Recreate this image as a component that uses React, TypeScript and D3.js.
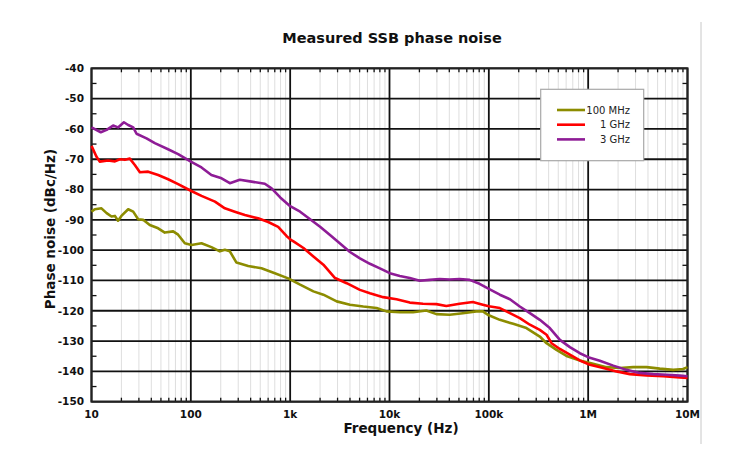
import React from "react";
import * as d3 from "d3";

// frequency (Hz), phase noise (dBc/Hz)
const series100MHz: [number, number][] = [
  [10, -87.3], [10.8, -86.5], [12.6, -86.2], [14.2, -87.8], [15.9, -88.9], [17.2, -88.7],
  [18.5, -90.3], [20, -88.7], [23.4, -86.5], [26.3, -87.3], [29.5, -89.8], [33.1, -90],
  [38.6, -91.7], [46.9, -92.8], [54.7, -94.2], [66.4, -93.8], [74.5, -94.9], [87, -97.7],
  [101.6, -98.3], [128, -97.7], [161, -99], [196, -100.4], [220, -99.9], [247, -100.4],
  [288, -104.1], [378, -105.2], [514, -106], [701, -107.6], [955, -109.3],
  [1259, -111.4], [1714, -113.6], [2159, -114.7], [2939, -116.9], [4000, -118],
  [5445, -118.6], [7410, -119.1], [9330, -120.2], [12700, -120.5], [17270, -120.5],
  [23500, -119.9], [29630, -121.1], [40300, -121.3], [54800, -120.8], [74600, -120.2],
  [87000, -120.2], [100000, -121.5], [129000, -123], [176000, -124.3], [239000, -125.7],
  [326000, -128.5], [381000, -130.7], [480000, -132.9], [605000, -134.9], [824000, -136.4],
  [1.12e6, -137.5], [1.53e6, -138.6], [2.08e6, -138.9], [2.84e6, -138.6], [3.87e6, -138.6],
  [5.26e6, -139.1], [7.18e6, -139.5], [9.04e6, -139.2], [1e7, -138.6],
];

const series1GHz: [number, number][] = [
  [10, -65.6], [11.2, -69.1], [12.1, -70.8], [14.7, -70.4], [17.2, -70.7], [19.3, -70],
  [21.7, -70.2], [24.3, -69.8], [27.3, -71.9], [30.7, -74.3], [37.2, -74.1], [46.9, -75.2],
  [59.1, -76.6], [74.5, -78.2], [100, -80.4], [128, -82.1], [175, -84], [220, -86.2],
  [277, -87.3], [350, -88.4], [476, -89.5], [601, -90.7], [757, -92.3], [918, -95.3],
  [1016, -96.6], [1080, -97.1], [1361, -99.3], [1714, -102.1], [2159, -104.8],
  [2830, -109.2], [3705, -110.9], [5038, -113.1], [6350, -114.2], [8636, -115.5],
  [11750, -116.2], [16000, -117.3], [21760, -117.7], [29630, -117.8], [37330, -118.4],
  [50800, -117.7], [69000, -117.1], [87000, -118], [100000, -118.5], [129000, -119.1],
  [163000, -120.8], [205000, -122.4], [259000, -124.6], [326000, -126.3], [381000, -127.9],
  [428000, -130.7], [519000, -132.6], [654000, -134.5], [824000, -136.4], [1.04e6, -137.8],
  [1.42e6, -138.9], [1.93e6, -140], [2.63e6, -140.9], [3.87e6, -141.3], [5.69e6, -141.6],
  [8.38e6, -142], [1e7, -142.2],
];

const series3GHz: [number, number][] = [
  [10, -59.5], [12.4, -61.1], [14.2, -60.3], [16.5, -58.9], [18.5, -59.5], [21.2, -57.8],
  [23.4, -58.7], [26.3, -59.5], [28.4, -61.6], [35.8, -63.1], [43.4, -64.7], [59, -66.7],
  [74.5, -68.3], [100, -70.8], [128, -72.7], [161, -75.2], [204, -76.3], [247, -77.9],
  [311, -76.8], [408, -77.4], [556, -78.1], [650, -79.6], [794, -82.6], [1000, -85.5],
  [1259, -87.3], [1588, -89.8], [2000, -92.3], [2518, -95], [3176, -97.8], [4000, -100.6],
  [5038, -102.7], [6350, -104.5], [8000, -106], [10070, -107.6], [12700, -108.5],
  [16000, -109.2], [20130, -110.1], [25400, -109.8], [32000, -109.5], [40300, -109.7],
  [50800, -109.5], [64000, -109.8], [80600, -111.1], [100000, -112.8], [129000, -114.7],
  [163000, -116.2], [205000, -118.6], [259000, -120.8], [326000, -123], [411000, -125.7],
  [519000, -129.6], [654000, -132], [824000, -134], [1e6, -135.3], [1.31e6, -136.5],
  [1.79e6, -138.1], [2.43e6, -139.5], [3.31e6, -140.5], [4.51e6, -140.9], [6.15e6, -141.1],
  [8.38e6, -141.4], [1e7, -141.6],
];

const seriesNames = ["100 MHz", "1 GHz", "3 GHz"];
const seriesColors = ["#8c8c00", "#ff0000", "#8e1c96"];
const decades = [10, 100, 1e3, 1e4, 1e5, 1e6, 1e7];
const decadeLabels = ["10", "100", "1k", "10k", "100k", "1M", "10M"];
const yTicks = d3.range(-150, -39, 10);

const width = 747,
  height = 468;
const font = "Verdana, 'DejaVu Sans', sans-serif";

const App: React.FC = () => {
  const x = d3.scaleLog().domain([10, 1e7]).range([91.5, 687.5]);
  const y = d3.scaleLinear().domain([-150, -40]).range([401.7, 68.3]);

  const line = d3
    .line<[number, number]>()
    .x((d) => x(d[0]))
    .y((d) => y(d[1]));

  const minorX: number[] = [];
  decades.slice(0, -1).forEach((d) => {
    for (let k = 2; k <= 9; k++) minorX.push(d * k);
  });
  const minorY = d3.range(-145, -40, 10);

  const [x0, x1] = x.range();
  const [y0, y1] = y.range();
  const allSeries = [series100MHz, series1GHz, series3GHz];

  return (
    <div style={{ position: "absolute", left: 0, top: 0 }}>
      <svg width={width} height={height} style={{ display: "block", background: "#fff" }}>
        <line x1={701} x2={701} y1={22} y2={444} stroke="#c8c8c8" strokeWidth={1} />
        <text x={392} y={43} textAnchor="middle" fontFamily={font} fontWeight="bold" fontSize={14.5} fill="#111">
          Measured SSB phase noise
        </text>

        {/* minor vertical grid */}
        {minorX.map((f, i) => (
          <line key={"mg" + i} x1={x(f)} x2={x(f)} y1={y1} y2={y0} stroke="#dedede" strokeWidth={1} />
        ))}
        {/* minor ticks */}
        {minorX.map((f, i) => (
          <g key={"mt" + i} stroke="#111" strokeWidth={1.3}>
            <line x1={x(f)} x2={x(f)} y1={y1} y2={y1 + 4} />
            <line x1={x(f)} x2={x(f)} y1={y0} y2={y0 - 4} />
          </g>
        ))}
        {minorY.map((v, i) => (
          <g key={"my" + i} stroke="#111" strokeWidth={1.3}>
            <line x1={x0} x2={x0 + 5} y1={y(v)} y2={y(v)} />
            <line x1={x1} x2={x1 - 5} y1={y(v)} y2={y(v)} />
          </g>
        ))}
        {/* major grid */}
        {yTicks.map((v) => (
          <line key={"gy" + v} x1={x0} x2={x1} y1={y(v)} y2={y(v)} stroke="#111" strokeWidth={1.8} />
        ))}
        {decades.map((f) => (
          <line key={"gx" + f} x1={x(f)} x2={x(f)} y1={y1} y2={y0} stroke="#111" strokeWidth={1.8} />
        ))}
        <rect x={x0} y={y1} width={x1 - x0} height={y0 - y1} fill="none" stroke="#222" strokeWidth={2} />

        {/* tick labels */}
        {yTicks.map((v) => (
          <text key={"ly" + v} x={84} y={y(v)} dy="0.36em" textAnchor="end" fontFamily={font} fontWeight="bold" fontSize={10.5} fill="#111">
            {v}
          </text>
        ))}
        {decades.map((f, i) => (
          <text key={"lx" + f} x={x(f)} y={418} textAnchor="middle" fontFamily={font} fontWeight="bold" fontSize={10.5} fill="#111">
            {decadeLabels[i]}
          </text>
        ))}
        <text x={401} y={433} textAnchor="middle" fontFamily={font} fontWeight="bold" fontSize={13.5} fill="#111">
          Frequency (Hz)
        </text>
        <text transform={`translate(55,${229}) rotate(-90)`} textAnchor="middle" fontFamily={font} fontWeight="bold" fontSize={13.5} fill="#111">
          Phase noise (dBc/Hz)
        </text>

        {/* curves */}
        {allSeries.map((s, i) => (
          <path key={"s" + i} d={line(s) ?? ""} fill="none" stroke={seriesColors[i]} strokeWidth={2.6} strokeLinejoin="round" />
        ))}

        {/* legend */}
        <rect x={540.7} y={89.3} width={103} height={71.4} fill="#fff" stroke="#a8a8a8" strokeWidth={1.2} />
        {seriesNames.map((n, i) => (
          <g key={"lg" + i}>
            <line x1={557} x2={585} y1={110 + i * 14.7} y2={110 + i * 14.7} stroke={seriesColors[i]} strokeWidth={2.6} />
            <text x={630} y={110 + i * 14.7} dy="0.36em" textAnchor="end" fontFamily={font} fontSize={10} fill="#222">
              {n}
            </text>
          </g>
        ))}
      </svg>
    </div>
  );
};

export default App;
